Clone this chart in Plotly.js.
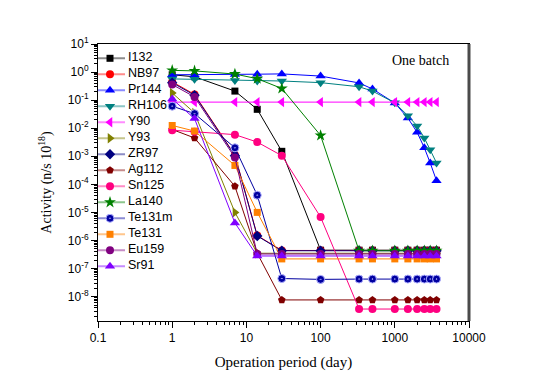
<!DOCTYPE html>
<html>
<head>
<meta charset="utf-8">
<script src="https://cdn.plot.ly/plotly-3.0.1.min.js"></script>
<style>html,body{margin:0;padding:0;background:#fff;}#chart{width:545px;height:385px;}</style>
</head>
<body>
<div id="chart"></div>
<script>
// ---- data ----
const DAYS = [1, 2, 7, 14, 30, 100, 330, 500, 1000, 1500, 2000, 2500, 3000, 3650];

const NAMES = ["I132", "NB97", "Pr144", "RH106", "Y90", "Y93", "ZR97", "Ag112", "Sn125", "La140", "Te131m", "Te131", "Eu159", "Sr91"];

const I132   = [0.8, 0.68, 0.21, 0.047, 1.5e-3, 4.5e-7, 4.5e-7, 4.5e-7, 4.5e-7, 4.5e-7, 4.5e-7, 4.5e-7, 4.5e-7, 4.5e-7];
const NB97   = [0.45, 0.16, 1.1e-3, 1.5e-6, 4.4e-7, 4.4e-7, 4.4e-7, 4.4e-7, 4.4e-7, 4.4e-7, 4.4e-7, 4.4e-7, 4.4e-7, 4.4e-7];
const Pr144  = [0.8, 0.8, 0.82, 0.84, 0.86, 0.72, 0.41, 0.25, 0.079, 0.023, 0.0071, 0.002, 5.8e-4, 1.35e-4];
const RH106  = [0.57, 0.55, 0.5, 0.48, 0.48, 0.42, 0.3, 0.21, 0.08, 0.028, 0.012, 0.0045, 0.0017, 5.8e-4];
const Y90    = [0.085, 0.085, 0.085, 0.085, 0.085, 0.085, 0.085, 0.085, 0.085, 0.085, 0.085, 0.085, 0.085, 0.085];
const Y93    = [0.18, 0.035, 1.0e-5, 3.5e-7, 3.5e-7, 3.5e-7, 3.5e-7, 3.5e-7, 3.5e-7, 3.5e-7, 3.5e-7, 3.5e-7, 3.5e-7, 3.5e-7];
const ZR97   = [0.42, 0.15, 1.05e-3, 1.45e-6, 4.3e-7, 4.3e-7, 4.3e-7, 4.3e-7, 4.3e-7, 4.3e-7, 4.3e-7, 4.3e-7, 4.3e-7, 4.3e-7];
const Ag112  = [9e-3, 4.5e-3, 8.5e-5, 3.5e-7, 7.6e-9, 7.6e-9, 7.6e-9, 7.6e-9, 7.6e-9, 7.6e-9, 7.6e-9, 7.6e-9, 7.6e-9, 7.6e-9];
const Sn125  = [8.5e-3, 7.5e-3, 5.9e-3, 3.2e-3, 1.05e-3, 6.8e-6, 3.6e-9, 3.6e-9, 3.6e-9, 3.6e-9, 3.6e-9, 3.6e-9, 3.6e-9, 3.6e-9];
const La140  = [1.15, 1.1, 0.85, 0.58, 0.26, 5.5e-3, 4.3e-7, 4.3e-7, 4.3e-7, 4.3e-7, 4.3e-7, 4.3e-7, 4.3e-7, 4.3e-7];
const Te131m = [0.061, 0.033, 2.0e-3, 4.1e-5, 4.4e-8, 4.1e-8, 4.2e-8, 4.2e-8, 4.2e-8, 4.2e-8, 4.2e-8, 4.2e-8, 4.2e-8, 4.2e-8];
const Te131  = [0.0125, 7.9e-3, 4.7e-4, 1.0e-5, 2.2e-7, 2.2e-7, 2.2e-7, 2.2e-7, 2.2e-7, 2.2e-7, 2.2e-7, 2.2e-7, 2.2e-7, 2.2e-7];
const Eu159  = [0.36, 0.13, 9e-4, 3.3e-7, 3.3e-7, 3.3e-7, 3.3e-7, 3.3e-7, 3.3e-7, 3.3e-7, 3.3e-7, 3.3e-7, 3.3e-7, 3.3e-7];
const Sr91   = [0.11, 0.022, 4.2e-6, 2.8e-7, 2.8e-7, 2.8e-7, 2.8e-7, 2.8e-7, 2.8e-7, 2.8e-7, 2.8e-7, 2.8e-7, 2.8e-7, 2.8e-7];

const SERIES = [I132, NB97, Pr144, RH106, Y90, Y93, ZR97, Ag112, Sn125, La140, Te131m, Te131, Eu159, Sr91];

const X_TICKS = [0.1, 1, 10, 100, 1000, 10000];
const X_TICK_TEXT = ["0.1", "1", "10", "100", "1000", "10000"];
const Y_TICKS = [1e1, 1e0, 1e-1, 1e-2, 1e-3, 1e-4, 1e-5, 1e-6, 1e-7, 1e-8];
const Y_TICK_TEXT = ["10<sup>1</sup>", "10<sup>0</sup>", "10<sup>-1</sup>", "10<sup>-2</sup>", "10<sup>-3</sup>", "10<sup>-4</sup>",
                     "10<sup>-5</sup>", "10<sup>-6</sup>", "10<sup>-7</sup>", "10<sup>-8</sup>"];

// ---- styles ----
const COLORS = ["#000000", "#ff0000", "#0000ff", "#008080", "#ff00ff", "#808000", "#000080", "#800000", "#ff0080", "#008000", "#0000a0", "#ff8000", "#800080", "#8000ff"];
const SYMBOLS = ["square", "circle", "triangle-up", "triangle-down", "triangle-left", "triangle-right", "diamond", "pentagon", "circle", "star", "circle-dot", "square", "circle", "triangle-up"];
const SIZES = [7, 8, 9, 9, 9, 9, 8, 8, 8, 9, 8, 7, 8, 9];

function rgba(hex, a) {
  const r = parseInt(hex.slice(1, 3), 16), g = parseInt(hex.slice(3, 5), 16), b = parseInt(hex.slice(5, 7), 16);
  return "rgba(" + r + "," + g + "," + b + "," + a + ")";
}
function markerStyle(i) {
  const sp = SYMBOLS[i] === "circle-dot";
  return { symbol: SYMBOLS[i], size: SIZES[i], color: COLORS[i],
           line: { width: sp ? 1 : 0, color: sp ? "#b0b0ff" : COLORS[i] } };
}

const traces = [];
SERIES.forEach(function (vals, i) {
  traces.push({
    type: "scatter", mode: "lines+markers", name: NAMES[i],
    x: DAYS, y: vals, xaxis: "x", yaxis: "y",
    line: { color: COLORS[i], width: 1 },
    marker: markerStyle(i),
    showlegend: false, cliponaxis: false
  });
});

// ---- custom legend (own small subplot, pixel-like units) ----
const LEG_TOP = 14.3, LEG_STEP = 16;
NAMES.forEach(function (nm, i) {
  const yy = LEG_TOP + LEG_STEP * i;
  traces.push({
    type: "scatter", mode: "lines", x: [0, 27], y: [yy, yy], xaxis: "x2", yaxis: "y2",
    line: { color: rgba(COLORS[i], 0.45), width: 2 }, showlegend: false, hoverinfo: "skip"
  });
  traces.push({
    type: "scatter", mode: "markers", x: [12], y: [yy], xaxis: "x2", yaxis: "y2",
    marker: markerStyle(i), cliponaxis: false, showlegend: false, hoverinfo: "skip"
  });
  traces.push({
    type: "scatter", mode: "text", x: [30], y: [yy], xaxis: "x2", yaxis: "y2",
    text: [nm], textposition: "middle right", cliponaxis: false,
    textfont: { family: "Liberation Sans, Arial, sans-serif", size: 12.5, color: "#000" },
    showlegend: false, hoverinfo: "skip"
  });
});

const tickFont = { family: "Liberation Sans, Arial, sans-serif", size: 12, color: "#000" };
const serif = "Liberation Serif, Times New Roman, serif";

function minorLogVals(lo, hi) {
  const v = [];
  for (let d = lo; d <= hi; d++) for (let k = 2; k <= 9; k++) v.push(k * Math.pow(10, d));
  return v;
}

const layout = {
  width: 545, height: 385,
  margin: { l: 98, r: 76, t: 44, b: 64 },
  paper_bgcolor: "#ffffff", plot_bgcolor: "rgba(0,0,0,0)",
  showlegend: false,
  xaxis: {
    type: "log", range: [-1, 4], tickmode: "array", tickvals: X_TICKS, ticktext: X_TICK_TEXT,
    ticks: "outside", ticklen: 6, tickwidth: 1, tickcolor: "#000",
    minor: { tickmode: "array", tickvals: minorLogVals(-1, 3), ticks: "outside", ticklen: 3, tickwidth: 1, tickcolor: "#000", showgrid: false },
    showline: true, linecolor: "#000", linewidth: 1, mirror: true, showgrid: false, zeroline: false,
    tickfont: tickFont, automargin: false,
    title: { text: "Operation period (day)", font: { family: serif, size: 15, color: "#000" }, standoff: 12 }
  },
  yaxis: {
    type: "log", range: [-8.87, 1], tickmode: "array", tickvals: Y_TICKS, ticktext: Y_TICK_TEXT,
    ticks: "outside", ticklen: 6, tickwidth: 1, tickcolor: "#000",
    minor: { tickmode: "array", tickvals: minorLogVals(-9, 0), ticks: "outside", ticklen: 3, tickwidth: 1, tickcolor: "#000", showgrid: false },
    showline: true, linecolor: "#000", linewidth: 1, mirror: true, showgrid: false, zeroline: false,
    tickfont: tickFont, automargin: false,
    title: { text: "Activity (n/s 10<sup>18</sup>)", font: { family: serif, size: 14, color: "#000" }, standoff: 12 }
  },
  xaxis2: { domain: [0, 0.25], anchor: "y2", range: [0, 92.75], visible: false, fixedrange: true, showgrid: false, zeroline: false },
  yaxis2: { domain: [0, 1], anchor: "x2", range: [277, 0], visible: false, fixedrange: true, showgrid: false, zeroline: false },
  shapes: [
    { type: "line", xref: "paper", yref: "paper", x0: 1, x1: 1, y0: 0, y1: 1, line: { color: "#4a4a4a", width: 3 } }
  ],
  annotations: [
    { text: "One batch", xref: "paper", yref: "paper", x: 0.868, y: 0.942, xanchor: "center", yanchor: "middle",
      showarrow: false, font: { family: serif, size: 14, color: "#000" } }
  ]
};

Plotly.newPlot("chart", traces, layout, { staticPlot: true, displayModeBar: false });
</script>
</body>
</html>
